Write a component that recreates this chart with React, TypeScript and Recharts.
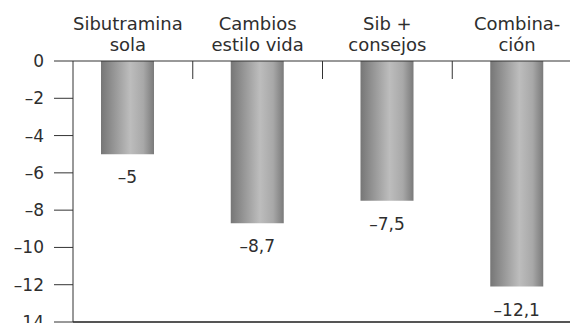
import { BarChart, Bar, XAxis, YAxis, LabelList, ReferenceLine } from 'recharts'

// Weight change (kg) per treatment group
const groups = ['Sibutramina sola', 'Cambios estilo vida', 'Sib + consejos', 'Combinación']
const groupLines = [
  ['Sibutramina', 'sola'],
  ['Cambios', 'estilo vida'],
  ['Sib +', 'consejos'],
  ['Combina-', 'ción'],
]
const weightChange = [-5, -8.7, -7.5, -12.1]
const yTicks = [0, -2, -4, -6, -8, -10, -12, -14]

const data = groups.map((name, i) => ({ name, value: weightChange[i], lines: groupLines[i] }))

const FONT = '"DejaVu Sans", sans-serif'
const TEXT = '#2e2e2e'

const fmt = (v: number) => String(v).replace('.', ',').replace('-', '–')

function GroupTick(props: any) {
  const { x, y, payload, index } = props
  const lines = groupLines[index] || [String(payload.value)]
  const half = payload.offset ?? 65
  return (
    <g>
      {lines.map((t: string, i: number) => (
        <text
          key={i}
          x={x}
          y={y - 31 + i * 21}
          textAnchor="middle"
          fontSize={18}
          fontFamily={FONT}
          fill={TEXT}
        >
          {t}
        </text>
      ))}
      {index < groups.length - 1 && (
        <line x1={x + half} x2={x + half} y1={y} y2={y + 18} stroke="#333" strokeWidth={1} />
      )}
    </g>
  )
}

function ValueLabel(props: any) {
  const { x, y, width, height, value } = props
  const end = Math.max(y, y + height)
  return (
    <text
      x={x + width / 2}
      y={end + 29}
      textAnchor="middle"
      fontSize={17}
      fontFamily={FONT}
      fill={TEXT}
    >
      {fmt(value)}
    </text>
  )
}

export default function App() {
  return (
    <div style={{ margin: -8, background: '#fff' }}>
      <BarChart
        width={578}
        height={331}
        data={data}
        margin={{ top: 0, right: 0, bottom: 9, left: 0 }}
      >
        <defs>
          <linearGradient id="barShade" x1="0" y1="0" x2="1" y2="0">
            <stop offset="0%" stopColor="#767676" />
            <stop offset="55%" stopColor="#bdbdbd" />
            <stop offset="80%" stopColor="#a8a8a8" />
            <stop offset="100%" stopColor="#7a7a7a" />
          </linearGradient>
        </defs>
        <XAxis
          dataKey="name"
          orientation="top"
          height={61}
          padding={{ left: -10, right: -4 }}
          axisLine={{ stroke: '#333', strokeWidth: 1 }}
          tickLine={false}
          tickSize={0}
          tickMargin={0}
          interval={0}
          tick={<GroupTick />}
        />
        <YAxis
          type="number"
          domain={[-14, 0]}
          ticks={yTicks}
          width={73}
          tickSize={19}
          tickMargin={10}
          axisLine={{ stroke: '#333', strokeWidth: 1 }}
          tickLine={{ stroke: '#333', strokeWidth: 1 }}
          tick={{ fontSize: 17, fontFamily: FONT, fill: TEXT }}
          tickFormatter={(v: number) => fmt(v)}
          interval={0}
        />
        <ReferenceLine y={-14} stroke="#555" strokeWidth={2} ifOverflow="visible" />
        <Bar dataKey="value" fill="url(#barShade)" barSize={53} isAnimationActive={false}>
          <LabelList dataKey="value" content={<ValueLabel />} />
        </Bar>
      </BarChart>
    </div>
  )
}
